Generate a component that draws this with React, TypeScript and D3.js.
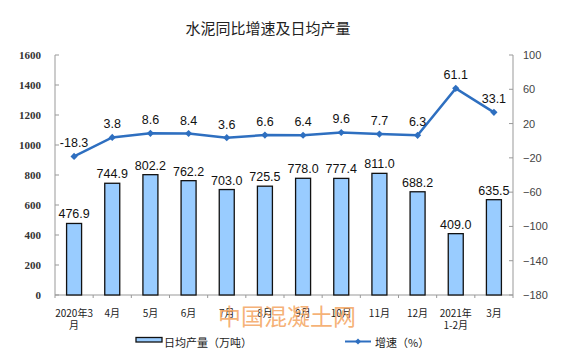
import React from "react";
import * as d3 from "d3";

const categories: string[][] = [
  ["2020年3", "月"], ["4月"], ["5月"], ["6月"], ["7月"], ["8月"], ["9月"], ["10月"], ["11月"], ["12月"], ["2021年", "1-2月"], ["3月"],
];
const output: number[] = [476.9, 744.9, 802.2, 762.2, 703.0, 725.5, 778.0, 777.4, 811.0, 688.2, 409.0, 635.5];
const growth: number[] = [-18.3, 3.8, 8.6, 8.4, 3.6, 6.6, 6.4, 9.6, 7.7, 6.3, 61.1, 33.1];
const leftTicks: number[] = [0, 200, 400, 600, 800, 1000, 1200, 1400, 1600];
const rightTicks: number[] = [100, 60, 20, -20, -60, -100, -140, -180];

const W = 576, H = 357;
const left = 55, right = 513, top = 55, bottom = 295;
const sans = "'Liberation Sans', Arial, sans-serif";
const cjk = "'Noto Sans CJK SC', sans-serif";

export default function App() {
  const x = d3.scaleBand<number>().domain(d3.range(categories.length)).range([left, right]).paddingInner(0).paddingOuter(0);
  const yL = d3.scaleLinear().domain([0, 1600]).range([bottom, top]);
  const yR = d3.scaleLinear().domain([-180, 100]).range([bottom, top]);
  const bw = 15;
  const cx = (i: number) => (x(i) as number) + x.bandwidth() / 2;
  const line = d3.line<number>().x((_, i) => cx(i)).y((d) => yR(d));
  const lineColor = "#2E6FC0";
  const diamond = (px: number, py: number, r = 3.6) =>
    `M${px},${py - r}L${px + r},${py}L${px},${py + r}L${px - r},${py}Z`;

  return (
    <svg width={W} height={H} style={{ position: "absolute", left: 0, top: 0, background: "#fff" }}>
      <text x={268} y={34} textAnchor="middle" fontFamily={cjk} fontSize={15} fill="#222">水泥同比增速及日均产量</text>

      {/* left axis */}
      <line x1={left} x2={left} y1={top} y2={bottom} stroke="#999" />
      {leftTicks.map((t) => (
        <g key={"l" + t}>
          <line x1={left} x2={left + 4} y1={yL(t)} y2={yL(t)} stroke="#999" />
          <text x={41} y={yL(t) + 4} textAnchor="end" fontFamily="'Liberation Serif', 'Times New Roman', serif" fontSize={11} fontWeight="bold" fill="#333">{t}</text>
        </g>
      ))}
      {/* right axis */}
      <line x1={right} x2={right} y1={top} y2={bottom} stroke="#999" />
      {rightTicks.map((t) => (
        <g key={"r" + t}>
          <line x1={right - 4} x2={right} y1={yR(t)} y2={yR(t)} stroke="#999" />
          <text x={523} y={yR(t) + 4} textAnchor="start" fontFamily={sans} fontSize={11} fill="#444">{t < 0 ? "\u2212" + Math.abs(t) : t}</text>
        </g>
      ))}
      {/* x axis */}
      <line x1={left} x2={right} y1={bottom} y2={bottom} stroke="#999" />
      {d3.range(categories.length + 1).map((i) => (
        <line key={"xt" + i} x1={left + i * x.bandwidth()} x2={left + i * x.bandwidth()} y1={bottom} y2={bottom + 3} stroke="#999" />
      ))}
      {categories.map((c, i) => (
        <text key={"xl" + i} x={cx(i)} y={317} textAnchor="middle" fontFamily={cjk} fontSize={10} fill="#222">
          {c.map((s, j) => (
            <tspan key={j} x={cx(i)} dy={j === 0 ? 0 : 12}>{s}</tspan>
          ))}
        </text>
      ))}

      {/* bars */}
      {output.map((v, i) => (
        <g key={"b" + i}>
          <rect x={cx(i) - bw / 2} y={yL(v)} width={bw} height={bottom - yL(v)} fill="#99CCFF" stroke="#111" strokeWidth={1.3} />
          <text x={cx(i)} y={yL(v) - 5} textAnchor="middle" fontFamily={sans} fontSize={12.5} fill="#111">{v.toFixed(1)}</text>
        </g>
      ))}

      {/* line */}
      <path d={line(growth) || ""} fill="none" stroke={lineColor} strokeWidth={2.5} />
      {growth.map((v, i) => (
        <g key={"p" + i}>
          <path d={diamond(cx(i), yR(v))} fill={lineColor} />
          <text x={cx(i)} y={yR(v) - 9} textAnchor="middle" fontFamily={sans} fontSize={12.5} fill="#111">{v.toFixed(1)}</text>
        </g>
      ))}

      {/* watermark */}
      <text x={287} y={325} textAnchor="middle" fontFamily={cjk} fontSize={23} fill="#F4A460" fillOpacity={0.85}>中国混凝土网</text>

      {/* legend */}
      <rect x={136} y={337.5} width={26} height={4.5} fill="#99CCFF" stroke="#111" strokeWidth={1.3} />
      <text x={164} y={347} fontFamily={cjk} fontSize={11} fill="#222">日均产量（万吨）</text>
      <line x1={345} x2={371} y1={341.5} y2={341.5} stroke={lineColor} strokeWidth={2} />
      <path d={diamond(358, 341.5, 3)} fill={lineColor} />
      <text x={375} y={347} fontFamily={cjk} fontSize={11} fill="#222">增速（%）</text>
    </svg>
  );
}
